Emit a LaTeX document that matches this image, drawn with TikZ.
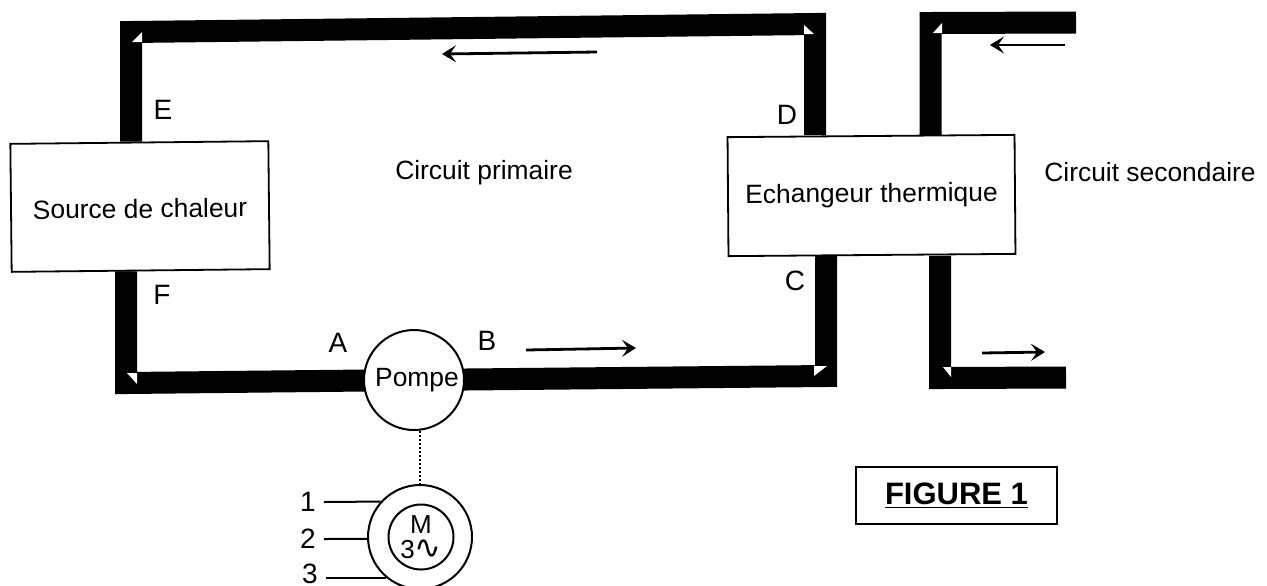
\documentclass[tikz,border=0pt]{standalone}
\usepackage{fontspec}
\setmainfont{Liberation Sans}
\newfontfamily\wavefont{DejaVu Sans}
\usetikzlibrary{arrows.meta, backgrounds}

\tikzset{
  pipe/.style={line width=11pt, line join=miter},
  boxnode/.style={draw, line width=0.9pt, fill=white, font=\fontsize{13.2}{15}\selectfont},
  roundnode/.style={draw, circle, line width=1pt, fill=white, inner sep=0pt},
  lettertag/.style={font=\fontsize{14}{16}\selectfont, inner sep=0pt},
  wiretag/.style={font=\fontsize{14}{16}\selectfont, inner sep=0pt, outer sep=4pt},
  flow/.style={line width=1.4pt, -{Stealth[length=7pt, width=8.5pt, inset=3pt]}},
  wire/.style={line width=1pt},
  cornermark/.style={fill=white}
}

\begin{document}
\begin{tikzpicture}[x=0.5pt, y=-0.5pt]
  \clip (0,0) rectangle (1267,585);
  % boxes and rotating machines
  \node[boxnode, minimum width=129pt, minimum height=64pt, rotate=0.6, text height=11.5pt, text depth=0pt] (source) at (140,206.5) {Source de chaleur};
  \node[boxnode, minimum width=143.5pt, minimum height=59.5pt, rotate=0.45] (exch) at (871.5,195.5) {Echangeur thermique};
  \node[roundnode, minimum size=50pt, font=\fontsize{13.2}{15}\selectfont] (pump) at (414,380) {\hspace*{3pt}Pompe};
  \node[roundnode, minimum size=52pt] (motor) at (420,537) {};
  \node[roundnode, minimum size=32.5pt, align=center, font=\fontsize{13}{12.5}\selectfont] (rotor) at (421,537) {M\\3{\wavefont\fontsize{16}{12.5}\selectfont ∿}};
  % pipe corners
  \coordinate (cornerE) at (131,32);
  \coordinate (cornerD) at (815,24);
  \coordinate (cornerF) at (126,383);
  \coordinate (cornerC) at (826,376);
  \coordinate (cornerG) at (930.5,23);
  \coordinate (cornerH) at (940,378);
  \coordinate (secIn) at (1076,22.5);
  \coordinate (secOut) at (1066,377.5);
  \begin{scope}[on background layer]
    \draw[pipe] (cornerE |- source.north) -- (cornerE) -- (cornerD) -- (cornerD |- exch.north);
    \draw[pipe] (cornerF |- source.south) -- (cornerF) -- (pump.center) -- (cornerC) -- (cornerC |- exch.south);
    \draw[pipe] (secIn) -- (cornerG) -- (cornerG |- exch.north);
    \draw[pipe] (cornerH |- exch.south) -- (cornerH) -- (secOut);
  \end{scope}
  % white marks in the elbows
  \fill[cornermark] (132,42) -- (142,42) -- (142,32) -- cycle;
  \fill[cornermark] (804,25) -- (804,34) -- (814,34) -- cycle;
  \fill[cornermark] (127,373) -- (137,373) -- (137,384) -- cycle;
  \fill[cornermark] (814,366) -- (827,366) -- (814,376) -- cycle;
  \fill[cornermark] (933,33) -- (942,33) -- (942,23) -- cycle;
  \fill[cornermark] (943,367) -- (951,367) -- (951,377) -- cycle;
  % letters
  \foreach \p/\q/\t in {163/110/E, 787/115/D, 162/295/F, 795/281/C, 338/343/A, 487/341/B} {
    \node[lettertag] (tag\t) at (\p,\q) {\t};
  }
  \node[boxnode, draw=none, fill=none, inner sep=0pt] (primary) at (484,173) {Circuit primaire};
  \node[boxnode, draw=none, fill=none, inner sep=0pt] (secondary) at (1150,172) {Circuit secondaire};
  % flow arrows
  \coordinate (arrA) at (597,52);
  \coordinate (arrB) at (442,54);
  \coordinate (arrC) at (526,350);
  \coordinate (arrD) at (636,348);
  \coordinate (arrE) at (1065,45);
  \coordinate (arrF) at (990,45);
  \coordinate (arrG) at (982,353);
  \coordinate (arrH) at (1045,352);
  \draw[flow] (arrA) -- (arrB);
  \draw[flow] (arrC) -- (arrD);
  \draw[flow] (arrE) -- (arrF);
  \draw[flow] (arrG) -- (arrH);
  % motor
  \draw[line width=1.4pt, dash pattern=on 1.2pt off 0.8pt] (motor.north |- pump.south) -- (motor.north);
  \node[wiretag] (wire1) at (308,502) {1};
  \node[wiretag] (wire2) at (308,539) {2};
  \node[wiretag] (wire3) at (310,574) {3};
  \draw[wire] (wire1.east) -- (motor.138);
  \draw[wire] (wire2.east) -- (motor.182);
  \draw[wire] (wire3.east |- motor.230) -- (motor.230);
  \node[draw, line width=0.9pt, minimum width=100.5pt, minimum height=28.5pt, font=\fontsize{15.5}{17}\selectfont\bfseries] (figlabel) at (956.5,495.5) {\underline{FIGURE 1}};
\end{tikzpicture}
\end{document}
